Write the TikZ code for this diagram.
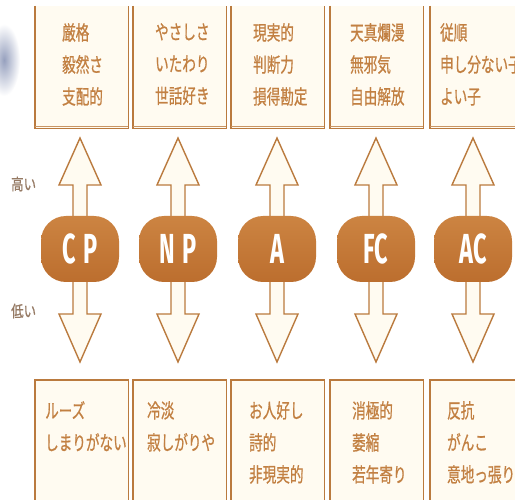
\documentclass[tikz,border=0pt]{standalone}
\usepackage{fontspec}
\setmainfont{Noto Sans CJK JP}
\newfontfamily\jpf[FakeBold=0.9]{Noto Sans CJK JP}
\newfontfamily\latinf{Fira Sans}
\definecolor{edgec}{RGB}{186,122,62}
\definecolor{boxfill}{RGB}{255,251,241}
\definecolor{txtc}{RGB}{194,128,66}
\definecolor{lblc}{RGB}{150,122,100}
\definecolor{pilltop}{RGB}{204,132,66}
\definecolor{pillbot}{RGB}{188,110,46}
\begin{document}
\begin{tikzpicture}[x=1pt,y=-1pt,
  boxshape/.style={fill=boxfill, draw=none, minimum width=93pt, inner sep=0pt, anchor=north west},
  edge/.style={draw=edgec, line width=1.6pt},
  boxtxt/.style={text=txtc, anchor=north west, align=left, inner sep=0pt, xscale=0.68, transform shape,
     font=\jpf\fontsize{20}{32}\selectfont},
  lbl/.style={text=lblc, anchor=west, inner sep=0pt, xscale=0.78, transform shape, font=\jpf\fontsize{16}{16}\selectfont},
  pill/.style={minimum width=78pt, minimum height=66pt, rounded corners=25pt, inner sep=0pt,
     top color=pilltop, bottom color=pillbot, draw=none, text=white},
  arrowsh/.style={fill=boxfill, draw=edgec, line width=1.4pt, line join=miter}
]
\useasboundingbox (0,0) rectangle (515,500);
\fill[white] (0,0) rectangle (515,500);
% faint swoosh at left
\shade[inner color={rgb,255:red,150;green,160;blue,190}, outer color=white] (4,60) ellipse (16pt and 36pt);

% top boxes
\foreach \n/\x in {t1/35,t2/133,t3/231,t4/330,t5/430}{
  \node[boxshape, minimum height=122pt] (\n) at (\x,6) {};
  \draw[edge] (\n.north west) -- (\n.south west) -- (\n.south east) -- (\n.north east);
  \draw[edgec!80, line width=1pt] ([yshift=2.2pt]\n.south west) -- ([yshift=2.2pt]\n.south east);
}
% bottom boxes
\foreach \n/\x in {b1/35,b2/133,b3/231,b4/330,b5/430}{
  \node[boxshape, minimum height=130pt] (\n) at (\x,380) {};
  \draw[edge] (\n.south west) -- (\n.north west) -- (\n.north east) -- (\n.south east);
}

% arrows
\foreach \cx in {80,178,277,376,473}{
  \draw[arrowsh] (\cx,138) -- (\cx+21,185) -- (\cx+7,185) -- (\cx+7,314) -- (\cx+21,314) -- (\cx,362)
    -- (\cx-21,314) -- (\cx-7,314) -- (\cx-7,185) -- (\cx-21,185) -- cycle;
}

% pills
\newcommand\pilltxt[1]{\latinf\bfseries\fontsize{42}{42}\selectfont\scalebox{0.56}[1]{#1}}
\node[pill] (cp) at (80,249) {\pilltxt{C\hspace{14pt}P}};
\node[pill] (np) at (178,249) {\pilltxt{N\hspace{14pt}P}};
\node[pill] (a)  at (277,249) {\pilltxt{A}};
\node[pill] (fc) at (376,249) {\pilltxt{FC}};
\node[pill] (ac) at (473,249) {\pilltxt{AC}};

% level labels
\node[lbl] (hi) at (11,184) {高い};
\node[lbl] (lo) at (11,311) {低い};

% top texts
\node[boxtxt] (tt1) at (62,23) {厳格\\毅然さ\\支配的};
\node[boxtxt] (tt2) at (155,23) {やさしさ\\いたわり\\世話好き};
\node[boxtxt] (tt3) at (253,23) {現実的\\判断力\\損得勘定};
\node[boxtxt] (tt4) at (350,23) {天真爛漫\\無邪気\\自由解放};
\node[boxtxt] (tt5) at (440,23) {従順\\申し分ない子\\よい子};

% bottom texts
\node[boxtxt] (bt1) at (45,401) {ルーズ\\しまりがない};
\node[boxtxt] (bt2) at (147,401) {冷淡\\寂しがりや};
\node[boxtxt] (bt3) at (249,401) {お人好し\\詩的\\非現実的};
\node[boxtxt] (bt4) at (352,401) {消極的\\萎縮\\若年寄り};
\node[boxtxt] (bt5) at (447,401) {反抗\\がんこ\\意地っ張り};
\end{tikzpicture}
\end{document}
